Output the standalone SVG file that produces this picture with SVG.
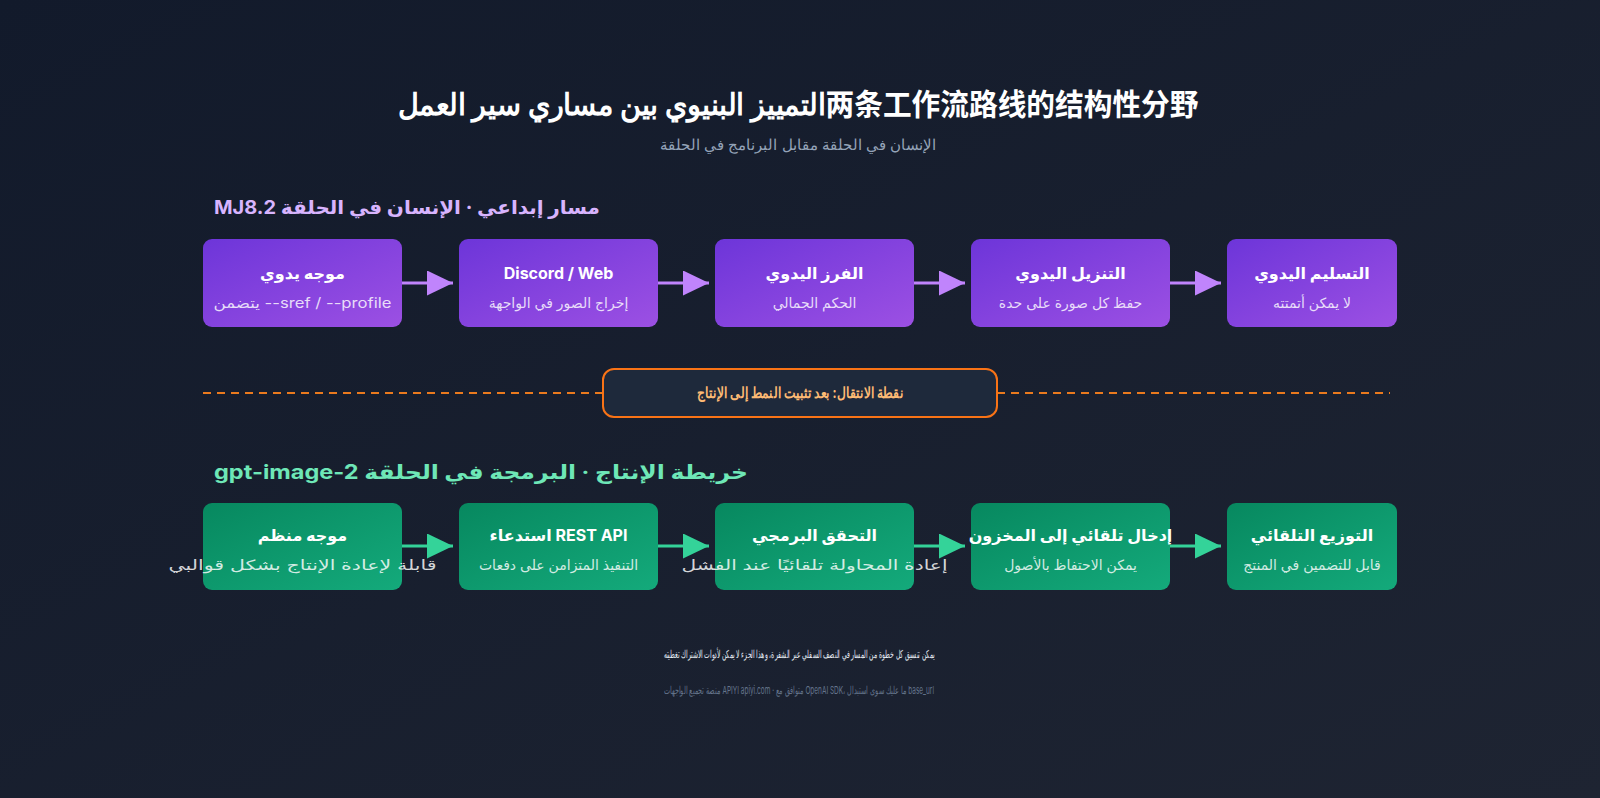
<svg xmlns="http://www.w3.org/2000/svg" width="1600" height="798" viewBox="0 0 1600 798">
  <defs>
    <linearGradient id="bg" x1="0" y1="0" x2="1" y2="1">
      <stop offset="0" stop-color="#121a2b"/>
      <stop offset="1" stop-color="#1e2432"/>
    </linearGradient>
    <linearGradient id="gPurple" x1="0" y1="0" x2="1" y2="1">
      <stop offset="0" stop-color="#6d35d9"/>
      <stop offset="1" stop-color="#9c50e3"/>
    </linearGradient>
    <linearGradient id="gGreen" x1="0" y1="0" x2="1" y2="1">
      <stop offset="0" stop-color="#07885f"/>
      <stop offset="1" stop-color="#14aa7b"/>
    </linearGradient>
    <marker id="arrP" markerUnits="userSpaceOnUse" markerWidth="26" markerHeight="26" refX="26" refY="12.5" orient="auto">
      <path d="M0,0 L26,12.5 L0,25 z" fill="#c084fc"/>
    </marker>
    <marker id="arrG" markerUnits="userSpaceOnUse" markerWidth="26" markerHeight="26" refX="26" refY="12.5" orient="auto">
      <path d="M0,0 L26,12.5 L0,25 z" fill="#34d399"/>
    </marker>
  </defs>
  <style>
    text { font-family: Inter, "Noto Sans", "Noto Sans CJK SC", sans-serif; }
    .wide { font-family: Inter, "DejaVu Sans", "Noto Sans CJK SC", sans-serif; }
    .title { font-size: 30px; font-weight: 700; fill: #ffffff; }
    .subtitle { font-size: 15px; fill: #94a3b8; }
    .h1 { font-size: 19px; font-weight: 700; fill: #d8b4fe; }
    .h2 { font-size: 20px; font-weight: 700; fill: #6ee7b7; }
    .bt { font-size: 16px; font-weight: 700; fill: #ffffff; text-anchor: middle; }
    .bs { font-size: 14px; fill: rgba(255,255,255,0.82); text-anchor: middle; }
    .pbox { fill: url(#gPurple); }
    .gbox { fill: url(#gGreen); }
    .pl { stroke: #c084fc; stroke-width: 3; fill: none; marker-end: url(#arrP); }
    .gl { stroke: #34d399; stroke-width: 3; fill: none; marker-end: url(#arrG); }
    .dash { stroke: #ea7a1e; stroke-width: 2; stroke-dasharray: 8 6; }
    .f1 { font-size: 11px; fill: #e2e8f0; text-anchor: middle; }
    .f2 { font-size: 11px; fill: #64748b; text-anchor: middle; }
  </style>

  <rect x="0" y="0" width="1600" height="798" fill="url(#bg)"/>

  <g id="header">
    <text class="title" x="798" y="115" text-anchor="middle" textLength="801" lengthAdjust="spacingAndGlyphs">التمييز البنيوي بين مساري سير العمل两条工作流路线的结构性分野</text>
    <text class="subtitle" x="798" y="150" text-anchor="middle" direction="rtl">الإنسان في الحلقة مقابل البرنامج في الحلقة</text>
  </g>

  <g id="section-mj">
    <text class="h1 wide" x="407" y="214" text-anchor="middle" direction="rtl" textLength="386" lengthAdjust="spacingAndGlyphs">مسار إبداعي · الإنسان في الحلقة MJ8.2</text>
  </g>

  <g id="connectors">
    <line class="pl" x1="402" y1="283" x2="453" y2="283"/>
    <line class="pl" x1="658" y1="283" x2="709" y2="283"/>
    <line class="pl" x1="914" y1="283" x2="965" y2="283"/>
    <line class="pl" x1="1170" y1="283" x2="1221" y2="283"/>
    <line class="gl" x1="402" y1="546" x2="453" y2="546"/>
    <line class="gl" x1="658" y1="546" x2="709" y2="546"/>
    <line class="gl" x1="914" y1="546" x2="965" y2="546"/>
    <line class="gl" x1="1170" y1="546" x2="1221" y2="546"/>
    <line class="dash" x1="203" y1="393" x2="603" y2="393"/>
    <line class="dash" x1="997" y1="393" x2="1390" y2="393"/>
  </g>

  <g id="mj-1">
    <rect class="pbox" x="203" y="239" width="199" height="88" rx="9"/>
    <text class="bt wide" x="302.5" y="279">موجه يدوي</text>
    <text class="bs wide" x="302.5" y="308" textLength="178" lengthAdjust="spacingAndGlyphs">يتضمن --sref / --profile</text>
  </g>
  <g id="mj-2">
    <rect class="pbox" x="459" y="239" width="199" height="88" rx="9"/>
    <text class="bt wide" x="558.5" y="279" font-size="18">Discord / Web</text>
    <text class="bs wide" x="558.5" y="308">إخراج الصور في الواجهة</text>
  </g>
  <g id="mj-3">
    <rect class="pbox" x="715" y="239" width="199" height="88" rx="9"/>
    <text class="bt wide" x="814.5" y="279">الفرز اليدوي</text>
    <text class="bs wide" x="814.5" y="308">الحكم الجمالي</text>
  </g>
  <g id="mj-4">
    <rect class="pbox" x="971" y="239" width="199" height="88" rx="9"/>
    <text class="bt wide" x="1070.5" y="279">التنزيل اليدوي</text>
    <text class="bs wide" x="1070.5" y="308">حفظ كل صورة على حدة</text>
  </g>
  <g id="mj-5">
    <rect class="pbox" x="1227" y="239" width="170" height="88" rx="9"/>
    <text class="bt wide" x="1312" y="279">التسليم اليدوي</text>
    <text class="bs wide" x="1312" y="308">لا يمكن أتمتته</text>
  </g>

  <g id="transition">
    <rect x="603" y="369" width="394" height="48" rx="11" fill="#1e293b" stroke="#f97316" stroke-width="2"/>
    <text x="800" y="398" text-anchor="middle" direction="rtl" font-size="15" font-weight="700" fill="#fdba74" textLength="206" lengthAdjust="spacingAndGlyphs">نقطة الانتقال: بعد تثبيت النمط إلى الإنتاج</text>
  </g>

  <g id="section-gpt">
    <text class="h2 wide" x="481" y="479" text-anchor="middle" direction="rtl" textLength="534" lengthAdjust="spacingAndGlyphs">خريطة الإنتاج · البرمجة في الحلقة gpt-image-2</text>
  </g>

  <g id="gpt-1">
    <rect class="gbox" x="203" y="503" width="199" height="87" rx="9"/>
    <text class="bt wide" x="302.5" y="541">موجه منظم</text>
    <text class="bs wide" x="302.5" y="570" font-size="15" textLength="268" lengthAdjust="spacingAndGlyphs">قابلة لإعادة الإنتاج بشكل قوالبي</text>
  </g>
  <g id="gpt-2">
    <rect class="gbox" x="459" y="503" width="199" height="87" rx="9"/>
    <text class="bt wide" x="558.5" y="541" font-size="17">استدعاء REST API</text>
    <text class="bs wide" x="558.5" y="570">التنفيذ المتزامن على دفعات</text>
  </g>
  <g id="gpt-3">
    <rect class="gbox" x="715" y="503" width="199" height="87" rx="9"/>
    <text class="bt wide" x="814.5" y="541">التحقق البرمجي</text>
    <text class="bs wide" x="814.5" y="570" font-size="15" textLength="266" lengthAdjust="spacingAndGlyphs">إعادة المحاولة تلقائيًا عند الفشل</text>
  </g>
  <g id="gpt-4">
    <rect class="gbox" x="971" y="503" width="199" height="87" rx="9"/>
    <text class="bt wide" x="1070.5" y="541">إدخال تلقائي إلى المخزون</text>
    <text class="bs wide" x="1070.5" y="570">يمكن الاحتفاظ بالأصول</text>
  </g>
  <g id="gpt-5">
    <rect class="gbox" x="1227" y="503" width="170" height="87" rx="9"/>
    <text class="bt wide" x="1312" y="541">التوزيع التلقائي</text>
    <text class="bs wide" x="1312" y="570">قابل للتضمين في المنتج</text>
  </g>

  <g id="footer">
    <text class="f1" x="799" y="658" direction="rtl" textLength="271" lengthAdjust="spacingAndGlyphs">يمكن تنسيق كل خطوة من المسار في النصف السفلي عبر الشفرة، وهذا الجزء لا يمكن لأدوات الاشتراك تغطيته</text>
    <text class="f2" x="799" y="694" textLength="270" lengthAdjust="spacingAndGlyphs">منصة تجميع الواجهات APIYI apiyi.com · متوافق مع OpenAI SDK، ما عليك سوى استبدال base_url</text>
  </g>
</svg>
